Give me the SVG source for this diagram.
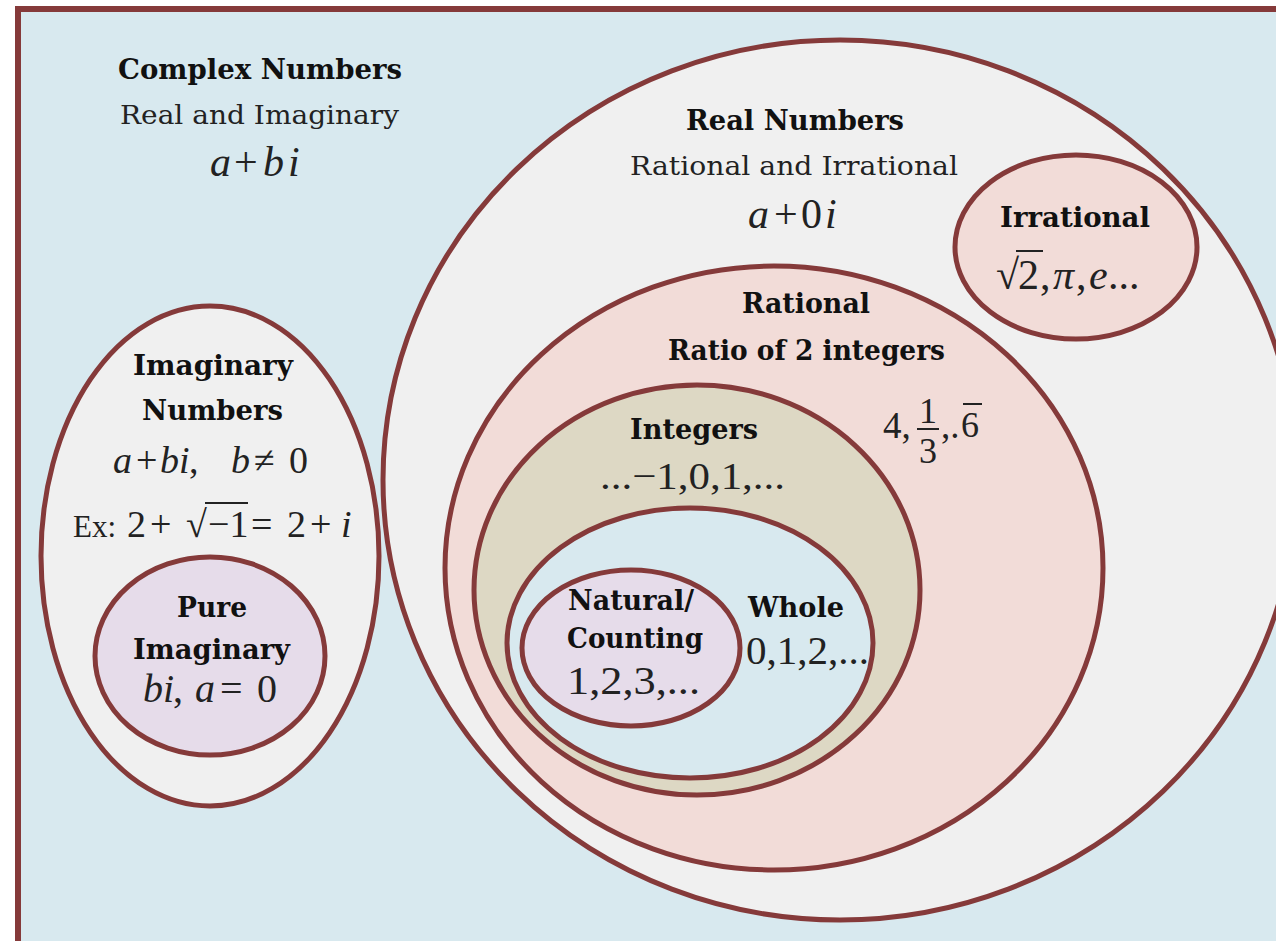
<svg xmlns="http://www.w3.org/2000/svg" width="1276" height="941" viewBox="0 0 1276 941">
<style>
.e{stroke:#853A3A;stroke-width:5}
.lb{font-family:'DejaVu Serif',serif;font-weight:bold;font-size:27px;fill:#111}
.lr{font-family:'DejaVu Serif',serif;font-size:26px;fill:#222}
.m{font-family:'Liberation Serif','Tinos','Times New Roman',serif;fill:#222}
.it{font-style:italic}
.ln{stroke:#222;stroke-width:2}
</style>
<rect id="frame" x="18" y="9" width="1300" height="1000" fill="#D8E9EF" stroke="#853A3A" stroke-width="6"/>
<g id="complex">
<text class="lb" x="118" y="79" textLength="284" lengthAdjust="spacingAndGlyphs">Complex Numbers</text>
<text class="lr" x="120" y="124" textLength="279" lengthAdjust="spacingAndGlyphs">Real and Imaginary</text>
<text class="m" style="font-size:42px" y="176"><tspan class="it" x="210">a</tspan><tspan x="234">+</tspan><tspan class="it" x="263">b</tspan><tspan class="it" x="288">i</tspan></text>
</g>
<g id="real">
<ellipse class="e" cx="840" cy="480" rx="457" ry="440" fill="#F0F0F0"/>
<text class="lb" x="686" y="130" textLength="218" lengthAdjust="spacingAndGlyphs">Real Numbers</text>
<text class="lr" x="630" y="175" textLength="328" lengthAdjust="spacingAndGlyphs">Rational and Irrational</text>
<text class="m" style="font-size:42px" y="228"><tspan class="it" x="748">a</tspan><tspan x="774">+</tspan><tspan x="801">0</tspan><tspan class="it" x="825">i</tspan></text>
</g>
<g id="irrational">
<ellipse class="e" cx="1076" cy="247" rx="121" ry="92" fill="#F2DCD8"/>
<text class="lb" x="1000" y="227" textLength="150" lengthAdjust="spacingAndGlyphs">Irrational</text>
<text class="m" style="font-size:42px" y="289"><tspan x="996">√</tspan><tspan x="1018">2</tspan><tspan x="1040">,</tspan><tspan class="it" x="1053">π</tspan><tspan x="1076">,</tspan><tspan class="it" x="1089">e</tspan><tspan x="1108">...</tspan></text>
<line class="ln" x1="1016" y1="251" x2="1043" y2="251"/>
</g>
<g id="rational">
<ellipse class="e" cx="774" cy="568" rx="329" ry="302" fill="#F2DCD8"/>
<text class="lb" x="742" y="313" textLength="128" lengthAdjust="spacingAndGlyphs">Rational</text>
<text class="lb" x="668" y="360" textLength="277" lengthAdjust="spacingAndGlyphs">Ratio of 2 integers</text>
<text class="m" style="font-size:37px" x="883" y="438">4,</text>
<text class="m" style="font-size:36px" x="928" y="423" text-anchor="middle">1</text>
<line class="ln" x1="917" y1="429" x2="939" y2="429"/>
<text class="m" style="font-size:36px" x="928" y="463" text-anchor="middle">3</text>
<text class="m" style="font-size:37px" x="941" y="438">,.</text>
<text class="m" style="font-size:36px" x="961" y="437">6</text>
<line class="ln" x1="963" y1="404" x2="982" y2="404"/>
</g>
<g id="integers">
<ellipse class="e" cx="697" cy="590" rx="223" ry="205" fill="#DDD8C4"/>
<text class="lb" x="630" y="439" textLength="128" lengthAdjust="spacingAndGlyphs">Integers</text>
<text class="m" style="font-size:38px" x="600" y="489" textLength="185" lengthAdjust="spacingAndGlyphs">...−1,0,1,...</text>
</g>
<g id="whole">
<ellipse class="e" cx="690" cy="643" rx="183" ry="135" fill="#D8E9EF"/>
<text class="lb" x="748" y="617" textLength="96" lengthAdjust="spacingAndGlyphs">Whole</text>
<text class="m" style="font-size:40px" x="746" y="664" textLength="123" lengthAdjust="spacingAndGlyphs">0,1,2,...</text>
</g>
<g id="natural">
<ellipse class="e" cx="631" cy="648" rx="109" ry="78" fill="#E6DCEA"/>
<text class="lb" x="568" y="610" textLength="126" lengthAdjust="spacingAndGlyphs">Natural/</text>
<text class="lb" x="567" y="648" textLength="136" lengthAdjust="spacingAndGlyphs">Counting</text>
<text class="m" style="font-size:40px" x="567" y="694" textLength="133" lengthAdjust="spacingAndGlyphs">1,2,3,...</text>
</g>
<g id="imaginary">
<ellipse class="e" cx="210" cy="556" rx="169" ry="250" fill="#F0F0F0"/>
<text class="lb" x="133" y="375" textLength="160" lengthAdjust="spacingAndGlyphs">Imaginary</text>
<text class="lb" x="142" y="420" textLength="141" lengthAdjust="spacingAndGlyphs">Numbers</text>
<text class="m" style="font-size:38px" y="473"><tspan class="it" x="113">a</tspan><tspan x="136">+</tspan><tspan class="it" x="160">b</tspan><tspan class="it" x="179">i</tspan><tspan x="189">,</tspan><tspan class="it" x="231">b</tspan><tspan x="254">≠</tspan><tspan x="289">0</tspan></text>
<text class="m" style="font-size:31px" x="73" y="537">Ex:</text>
<text class="m" style="font-size:38px" y="537"><tspan x="127">2</tspan><tspan x="150">+</tspan><tspan x="186">√</tspan><tspan x="208">−1</tspan><tspan x="251">=</tspan><tspan x="287">2</tspan><tspan x="310">+</tspan><tspan class="it" x="341">i</tspan></text>
<line class="ln" x1="205" y1="503" x2="248" y2="503"/>
</g>
<g id="pure">
<ellipse class="e" cx="210" cy="656" rx="115" ry="99" fill="#E6DCEA"/>
<text class="lb" x="177" y="617" textLength="70" lengthAdjust="spacingAndGlyphs">Pure</text>
<text class="lb" x="133" y="659" textLength="157" lengthAdjust="spacingAndGlyphs">Imaginary</text>
<text class="m" style="font-size:40px" y="702"><tspan class="it" x="143">b</tspan><tspan class="it" x="163">i</tspan><tspan x="173">,</tspan><tspan class="it" x="195">a</tspan><tspan x="220">=</tspan><tspan x="257">0</tspan></text>
</g>
<g id="connectors"/>
</svg>
